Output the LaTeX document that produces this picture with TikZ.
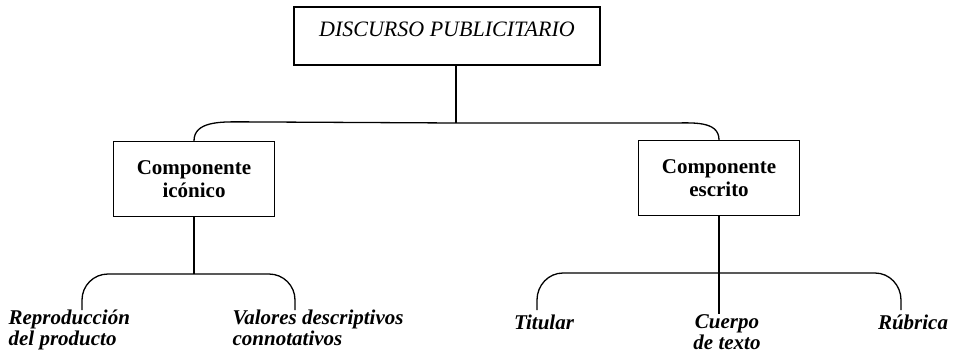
\documentclass[tikz,border=0pt]{standalone}
\usepackage{fontspec}
\setmainfont{Liberation Serif}
\usepackage{tikz}

\begin{document}
\begin{tikzpicture}[
            x=1pt, y=1pt,
            line width=1.3pt,
            raiz/.style={draw, font=\fontsize{22}{26}\selectfont\itshape, minimum width=306pt, minimum height=58pt, text height=15pt, text depth=15pt},
            caja/.style={draw, font=\fontsize{21}{23}\selectfont\bfseries, align=center, minimum width=161pt, minimum height=75pt},
            hoja/.style={font=\fontsize{21}{21}\selectfont\bfseries\itshape, align=left, inner sep=0pt},
        ]
            \useasboundingbox (0,0) rectangle (953,-364);

            \node[raiz] (disc) at (447,-36) {DISCURSO PUBLICITARIO};
            \node[caja] (ico) at (194,-179) {Componente\\icónico};
            \node[caja] (esc) at (719,-178) {Componente\\escrito};

            \node[hoja, anchor=north west] (repro) at (8,-309) {Reproducción\\del producto};
            \node[hoja, anchor=north west] (valor) at (232,-309) {Valores descriptivos\\connotativos};
            \node[hoja, anchor=north] (titu) at (544,-314) {Titular};
            \node[hoja, anchor=north, align=center] (cuer) at (727,-314) {Cuerpo\\de texto};
            \node[hoja, anchor=north] (rubr) at (913,-314) {Rúbrica};

            \coordinate (j1) at (456,-123);
            \coordinate (j2) at (194,-274);
            \coordinate (p1) at (82,-310);
            \coordinate (p2) at (295,-310);
            \coordinate (p3) at (537,-310);
            \coordinate (p4) at (901,-310);

            \draw (disc.south -| j1) -- (j1);
            \draw (ico.north) to[out=90,in=180] ++(46,19) -- (j1) -- ++(216,0) to[out=0,in=90] (esc.north);
            \draw (ico.south) -- (j2);
            \draw (p1) -- ++(0,10) to[out=90,in=180] ++(26,26) -- (j2) -- ++(75,0) to[out=0,in=90] ++(26,-26) -- (p2);
            \draw (esc.south) -- (esc.south |- cuer.north);
            \draw (p3) -- ++(0,10) to[out=90,in=180] ++(26,27) -- ++(312,0) to[out=0,in=90] ++(26,-27) -- (p4);
        \end{tikzpicture}
\end{document}
